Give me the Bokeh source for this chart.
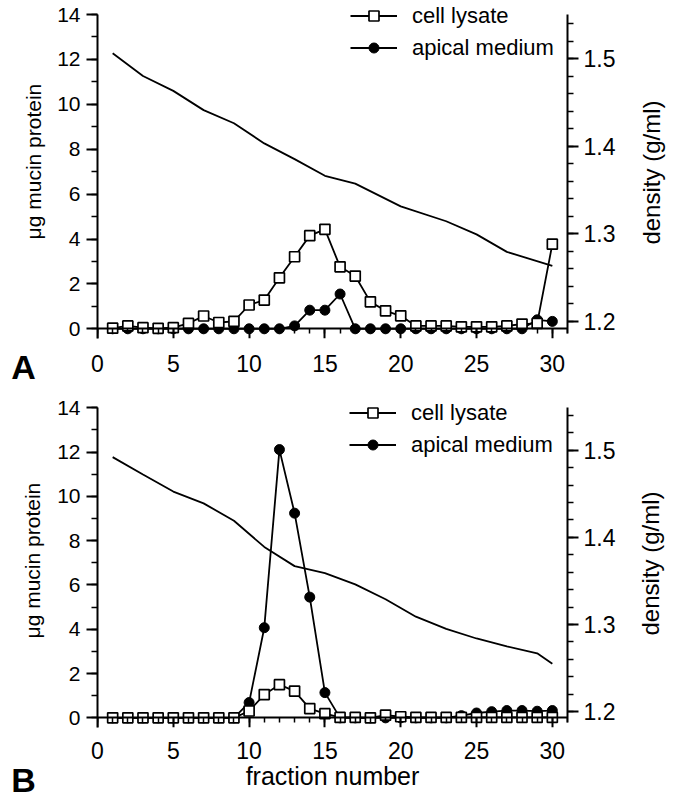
import math
from bokeh.plotting import figure
from bokeh.models import (LinearAxis, Range1d, SingleIntervalTicker, FixedTicker,
                          Legend, LegendItem, ColumnDataSource)
from bokeh.layouts import column, row
from bokeh.core.properties import value
from bokeh.embed import file_html
from bokeh.resources import INLINE

# ---------------- data ----------------
fractions = [1, 2, 3, 4, 5, 6, 7, 8, 9, 10, 11, 12, 13, 14, 15,
             16, 17, 18, 19, 20, 21, 22, 23, 24, 25, 26, 27, 28, 29, 30]

# Panel A
a_lysate = [0.03, 0.13, 0.05, 0.02, 0.05, 0.24, 0.57, 0.28, 0.33, 1.06,
            1.28, 2.27, 3.21, 4.15, 4.43, 2.76, 2.35, 1.20, 0.80, 0.58,
            0.13, 0.13, 0.13, 0.09, 0.09, 0.09, 0.13, 0.21, 0.24, 3.77]
a_apical = [0.0, 0.0, 0.0, 0.0, 0.0, 0.0, 0.0, 0.0, 0.0, 0.0,
            0.0, 0.0, 0.13, 0.83, 0.83, 1.55, 0.0, 0.0, 0.0, 0.0,
            0.0, 0.0, 0.0, 0.0, 0.0, 0.0, 0.0, 0.0, 0.40, 0.33]
a_density_fraction = [1, 3, 5, 7, 9, 11, 13, 15, 17, 20, 23, 25, 27, 30]
a_density = [1.506, 1.480, 1.463, 1.441, 1.426, 1.403, 1.385, 1.366,
             1.357, 1.331, 1.314, 1.299, 1.279, 1.263]

# Panel B
b_lysate = [0.0, 0.0, 0.0, 0.0, 0.0, 0.0, 0.0, 0.0, 0.0, 0.31,
            1.05, 1.50, 1.21, 0.42, 0.19, 0.02, 0.02, 0.0, 0.12, 0.05,
            0.02, 0.02, 0.02, 0.02, 0.02, 0.02, 0.02, 0.02, 0.02, 0.02]
b_apical = [0.0, 0.0, 0.0, 0.0, 0.0, 0.0, 0.0, 0.0, 0.0, 0.69,
            4.07, 12.11, 9.24, 5.45, 1.14, 0.0, 0.0, 0.0, 0.0, 0.0,
            0.0, 0.0, 0.0, 0.10, 0.22, 0.28, 0.33, 0.33, 0.30, 0.33]
b_density_fraction = [1, 3, 5, 7, 9, 11, 13, 15, 17, 19, 21, 23, 25, 27, 29, 30]
b_density = [1.492, 1.472, 1.4525, 1.439, 1.419, 1.389, 1.367, 1.359,
             1.346, 1.329, 1.309, 1.295, 1.284, 1.275, 1.267, 1.255]

series_labels = ["cell lysate", "apical medium"]
panel_tags = ["A", "B"]
y_left_label = "\u03bcg mucin protein"
y_right_label = "density (g/ml)"
x_label = "fraction number"

FONT = "Liberation Sans"

MAIN_W = 584      # main figure width
LEFT_W = 46       # strip with panel tag and left axis title
RIGHT_W = 43      # strip with right axis title


def style_axis(ax, fs, tick_out, minor_out, stand):
    ax.axis_line_width = 2
    ax.axis_line_color = "black"
    ax.major_tick_line_width = 2
    ax.minor_tick_line_width = 1.5
    ax.major_tick_line_color = "black"
    ax.minor_tick_line_color = "black"
    ax.major_tick_in = 0
    ax.minor_tick_in = 0
    ax.major_tick_out = tick_out
    ax.minor_tick_out = minor_out
    ax.major_label_text_font = FONT
    ax.major_label_text_font_size = fs
    ax.major_label_text_color = "black"
    ax.major_label_standoff = stand


def make_main(lysate, apical, dens_frac, dens, *, height, bottom, y_rng,
              y_bounds, d_rng, d_bounds, legend_loc, tick_standoff,
              xlabel=None):
    p = figure(width=MAIN_W, height=height,
               x_range=Range1d(0, 31), y_range=Range1d(*y_rng),
               output_backend="svg", toolbar_location=None,
               min_border_left=51, min_border_right=63,
               min_border_top=0, min_border_bottom=bottom)
    p.outline_line_color = None
    p.xgrid.visible = False
    p.ygrid.visible = False

    # tick labels of the x axis (at frame bottom, no line / ticks)
    xl = p.xaxis[0]
    xl.ticker = SingleIntervalTicker(interval=5, num_minor_ticks=5)
    style_axis(xl, "23px", 0, 0, tick_standoff)
    xl.axis_line_color = None
    xl.major_tick_line_color = None
    xl.minor_tick_line_color = None
    if xlabel:
        xl.axis_label = xlabel
        xl.axis_label_text_font = FONT
        xl.axis_label_text_font_size = "25px"
        xl.axis_label_text_font_style = "normal"
        xl.axis_label_text_color = "black"
        xl.axis_label_standoff = 0

    # x axis line and ticks at y = 0
    xf = LinearAxis(ticker=SingleIntervalTicker(interval=5, num_minor_ticks=5),
                    fixed_location=0, bounds=(0, 31))
    style_axis(xf, "1px", 0, 0, 0)
    xf.major_tick_in = -10
    xf.minor_tick_in = -5
    xf.major_label_text_alpha = 0
    p.add_layout(xf, "below")

    # left axis
    ya = p.yaxis[0]
    ya.ticker = SingleIntervalTicker(interval=2, num_minor_ticks=2)
    ya.bounds = y_bounds
    style_axis(ya, "21px", 11, 6, 6)

    # right axis (density)
    p.extra_y_ranges = {"dens": Range1d(*d_rng)}
    ra = LinearAxis(y_range_name="dens",
                    ticker=SingleIntervalTicker(interval=0.1, num_minor_ticks=5),
                    bounds=d_bounds)
    style_axis(ra, "23px", 11, 6, 5)
    p.add_layout(ra, "right")

    dsrc = ColumnDataSource(dict(f=dens_frac, d=dens))
    src = ColumnDataSource(dict(f=fractions, lys=lysate, api=apical))

    p.line("f", "d", source=dsrc, y_range_name="dens", line_color="black",
           line_width=1.8)
    l2 = p.line("f", "api", source=src, line_color="black", line_width=1.8)
    s2 = p.scatter("f", "api", source=src, marker="circle", size=10,
                   fill_color="black", line_color="black", line_width=1)
    l1 = p.line("f", "lys", source=src, line_color="black", line_width=1.8)
    s1 = p.scatter("f", "lys", source=src, marker="square", size=10,
                   fill_color="white", line_color="black", line_width=1.7)

    legend = Legend(items=[LegendItem(label=series_labels[0], renderers=[l1, s1]),
                           LegendItem(label=series_labels[1], renderers=[l2, s2])],
                    location=legend_loc, glyph_width=47, glyph_height=25,
                    label_height=25, spacing=6, padding=0, margin=0,
                    label_standoff=15, border_line_color=None,
                    background_fill_alpha=0, label_text_font=FONT,
                    label_text_font_size="22px", label_text_color="black")
    p.add_layout(legend)
    return p


def make_strip(width, height, y_range, bottom, text_x, text_y, text, size,
               tag=None, tag_standoff=0):
    s = figure(width=width, height=height, x_range=Range1d(0, width),
               y_range=y_range, output_backend="svg",
               toolbar_location=None, min_border_left=0, min_border_right=0,
               min_border_top=0, min_border_bottom=bottom,
               x_axis_location="below" if tag else None,
               y_axis_location=None)
    s.outline_line_color = None
    s.grid.visible = False
    if tag:
        ax = s.xaxis[0]
        ax.ticker = FixedTicker(ticks=[])
        ax.axis_line_color = None
        ax.major_tick_line_color = None
        ax.minor_tick_line_color = None
        ax.major_tick_out = 0
        ax.minor_tick_out = 0
        ax.major_label_standoff = 0
        ax.major_label_text_font_size = "1px"
        ax.axis_label = tag
        ax.axis_label_text_font = FONT
        ax.axis_label_text_font_size = "34px"
        ax.axis_label_text_font_style = "bold"
        ax.axis_label_text_color = "black"
        ax.axis_label_standoff = tag_standoff
    s.text(x=[text_x], y=[text_y], text=[text], angle=math.pi / 2,
           text_font=value(FONT), text_font_size=size,
           text_align="center", text_baseline="middle", text_color="black")
    return s


H_A = 393
H_B = 408
BOT_A = 55
BOT_B = 72

pA = make_main(a_lysate, a_apical, a_density_fraction, a_density,
               height=H_A, bottom=BOT_A, y_rng=(-0.432, 14.624),
               y_bounds=(-0.432, 14), d_rng=(1.18, 1.5663),
               d_bounds=(1.1857, 1.5503), legend_loc=(253, 277.5),
               tick_standoff=16)
pB = make_main(b_lysate, b_apical, b_density_fraction, b_density,
               height=H_B, bottom=BOT_B, y_rng=(-0.435, 14.642),
               y_bounds=(-0.435, 14), d_rng=(1.1819, 1.565),
               d_bounds=(1.1876, 1.5487), legend_loc=(252, 269.5),
               tick_standoff=14, xlabel=x_label)

leftA = make_strip(LEFT_W, H_A, pA.y_range, BOT_A, 33, 7.45, y_left_label,
                   "21px", tag=panel_tags[0], tag_standoff=9)
leftB = make_strip(LEFT_W, H_B, pB.y_range, BOT_B, 32, 7.1, y_left_label,
                   "21px", tag=panel_tags[1], tag_standoff=33)
rightA = make_strip(RIGHT_W, H_A, pA.y_range, BOT_A, 20.7, 6.96,
                    y_right_label, "24px")
rightB = make_strip(RIGHT_W, H_B, pB.y_range, BOT_B, 20, 6.97,
                    y_right_label, "24px")

layout = column(row(leftA, pA, rightA), row(leftB, pB, rightB))
open("out.html", "w").write(file_html(layout, INLINE))
